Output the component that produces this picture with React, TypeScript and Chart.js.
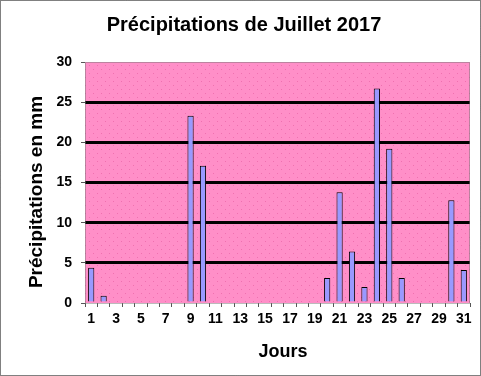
import React, { useEffect, useRef } from "react";
import { Chart, registerables } from "chart.js";

Chart.register(...registerables);

const days: string[] = Array.from({ length: 31 }, (_, i) => String(i + 1));
const rainfall: number[] = [
  4.4, 0.9, 0, 0, 0, 0, 0, 0, 23.3, 17.1,
  0, 0, 0, 0, 0, 0, 0, 0, 0, 3.1,
  13.8, 6.4, 2.0, 26.7, 19.2, 3.1, 0, 0, 0, 12.8,
  4.1,
];
const yTicks: number[] = [0, 5, 10, 15, 20, 25, 30];
const chartTitle = "Précipitations de Juillet 2017";
const yTitle = "Précipitations en mm";
const xTitle = "Jours";

const FONT = "'Liberation Sans', Arial, sans-serif";

function makePattern(ctx: CanvasRenderingContext2D) {
  const c = document.createElement("canvas");
  c.width = 8;
  c.height = 8;
  const g = c.getContext("2d")!;
  g.fillStyle = "#FF8FC8";
  g.fillRect(0, 0, 8, 8);
  g.fillStyle = "#F070B0";
  g.fillRect(1, 1, 1, 1);
  g.fillRect(5, 5, 1, 1);
  return ctx.createPattern(c, "repeat");
}

const decorPlugin = {
  id: "decor",
  beforeDraw(chart: any) {
    const { ctx, chartArea: a, width, height } = chart;
    ctx.save();
    ctx.fillStyle = "#FFFFFF";
    ctx.fillRect(0, 0, width, height);
    const pat = makePattern(ctx);
    ctx.fillStyle = pat || "#FF8FC8";
    ctx.fillRect(a.left, a.top, a.right - a.left, a.bottom - a.top);
    ctx.restore();
  },
  afterDraw(chart: any) {
    const { ctx, chartArea: a, width, height } = chart;
    ctx.save();
    ctx.strokeStyle = "#777777";
    ctx.lineWidth = 1;
    ctx.setLineDash([1, 1]);
    ctx.strokeRect(a.left + 0.5, a.top + 0.5, a.right - a.left - 1, a.bottom - a.top);
    ctx.strokeStyle = "#000000";
    ctx.strokeRect(0.5, 0.5, width - 1, height - 1);
    ctx.setLineDash([]);
    ctx.fillStyle = "#000000";
    ctx.textAlign = "center";
    ctx.textBaseline = "middle";
    ctx.font = `bold 20px ${FONT}`;
    ctx.fillText(chartTitle, 244, 25);
    ctx.font = `bold 18px ${FONT}`;
    ctx.fillText(xTitle, 283, 352);
    ctx.translate(37, 192);
    ctx.rotate(-Math.PI / 2);
    ctx.font = `bold 19px ${FONT}`;
    ctx.fillText(yTitle, 0, 0);
    ctx.restore();
  },
};

export default function App() {
  const ref = useRef<HTMLCanvasElement>(null);
  useEffect(() => {
    document.body.style.margin = "0";
    const chart = new Chart(ref.current!, {
      type: "bar",
      data: {
        labels: days,
        datasets: [
          {
            data: rainfall,
            backgroundColor: "#9999FF",
            borderColor: "#000000",
            borderWidth: 1,
            barPercentage: 0.5,
            categoryPercentage: 1,
          },
        ],
      },
      options: {
        animation: false,
        responsive: false,
        maintainAspectRatio: false,
        layout: { padding: { top: 62, right: 11, left: 0, bottom: 0 } },
        plugins: { legend: { display: false }, title: { display: false }, tooltip: { enabled: false } },
        scales: {
          x: {
            offset: true,
            grid: {
              offset: true,
              drawOnChartArea: false,
              drawTicks: true,
              tickLength: 4,
              tickColor: "#555555",
            },
            border: { display: false },
            ticks: {
              autoSkip: false,
              maxRotation: 0,
              padding: 4,
              color: "#000000",
              font: { family: FONT, size: 14, weight: "bold" },
              callback: (_v: any, i: number) => (i % 2 === 0 ? days[i] : ""),
            },
            afterFit: (s: any) => {
              s.height = 73;
            },
          },
          y: {
            min: 0,
            max: 30,
            afterBuildTicks: (s: any) => {
              s.ticks = yTicks.map((v) => ({ value: v }));
            },
            grid: {
              color: (c: any) => (c.tick && (c.tick.value === 0 || c.tick.value === 30) ? "rgba(0,0,0,0)" : "#000000"),
              lineWidth: 3,
              tickColor: "#555555",
              tickWidth: 1,
              tickLength: 4,
            },
            border: { display: false },
            ticks: {
              padding: 9,
              color: "#000000",
              font: { family: FONT, size: 14, weight: "bold" },
            },
            afterFit: (s: any) => {
              s.width = 85;
            },
          },
        },
      },
      plugins: [decorPlugin],
    });
    return () => chart.destroy();
  }, []);
  return <canvas ref={ref} width={481} height={376} style={{ display: "block" }} />;
}
